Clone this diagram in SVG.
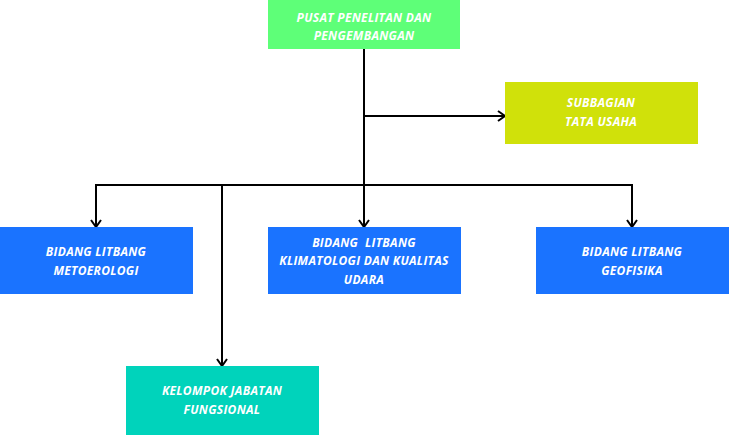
<svg xmlns="http://www.w3.org/2000/svg" width="729" height="435" viewBox="0 0 729 435">
<defs>
<style>
.t{font-family:"Open Sans","Noto Sans","DejaVu Sans",sans-serif;font-weight:700;font-style:italic;font-size:12px;letter-spacing:0.3px;fill:#ffffff;text-anchor:middle;}
.c{fill:none;stroke:#000;stroke-width:2;}
</style>
<marker id="a" viewBox="0 0 12 12" refX="10" refY="6" markerWidth="12" markerHeight="12" markerUnits="userSpaceOnUse" orient="auto">
<path d="M3,1 L10,6 L3,11" fill="none" stroke="#000" stroke-width="2"/>
</marker>
</defs>
<rect width="729" height="435" fill="#fff"/>
<g id="connectors">
<path class="c" d="M364,49 V227" marker-end="url(#a)"/>
<path class="c" d="M364,116 H505" marker-end="url(#a)"/>
<path class="c" d="M96,227 V185 H632 V227" marker-end="url(#a)"/>
<path class="c" d="M96,185 V227" marker-end="url(#a)"/>
<path class="c" d="M222,185 V366" marker-end="url(#a)"/>
</g>
<g id="pusat">
<rect x="268" y="0" width="192" height="49" fill="#5eff78"/>
<text class="t" x="364" y="22">PUSAT PENELITAN DAN</text>
<text class="t" x="364" y="40">PENGEMBANGAN</text>
</g>
<g id="subbagian">
<rect x="505" y="82" width="193" height="62" fill="#d0e10a"/>
<text class="t" x="601" y="107">SUBBAGIAN</text>
<text class="t" x="601" y="126">TATA USAHA</text>
</g>
<g id="metoerologi">
<rect x="0" y="227" width="193" height="67" fill="#1a73ff"/>
<text class="t" x="96" y="256">BIDANG LITBANG</text>
<text class="t" x="96" y="275">METOEROLOGI</text>
</g>
<g id="klimatologi">
<rect x="268" y="227" width="193" height="67" fill="#1a73ff"/>
<text class="t" x="364" y="247" xml:space="preserve">BIDANG  LITBANG</text>
<text class="t" x="364" y="265">KLIMATOLOGI DAN KUALITAS</text>
<text class="t" x="364" y="284">UDARA</text>
</g>
<g id="geofisika">
<rect x="536" y="227" width="193" height="67" fill="#1a73ff"/>
<text class="t" x="632" y="256">BIDANG LITBANG</text>
<text class="t" x="632" y="275">GEOFISIKA</text>
</g>
<g id="kelompok">
<rect x="126" y="366" width="193" height="69" fill="#00d3bb"/>
<text class="t" x="222" y="395">KELOMPOK JABATAN</text>
<text class="t" x="222" y="414">FUNGSIONAL</text>
</g>
</svg>
